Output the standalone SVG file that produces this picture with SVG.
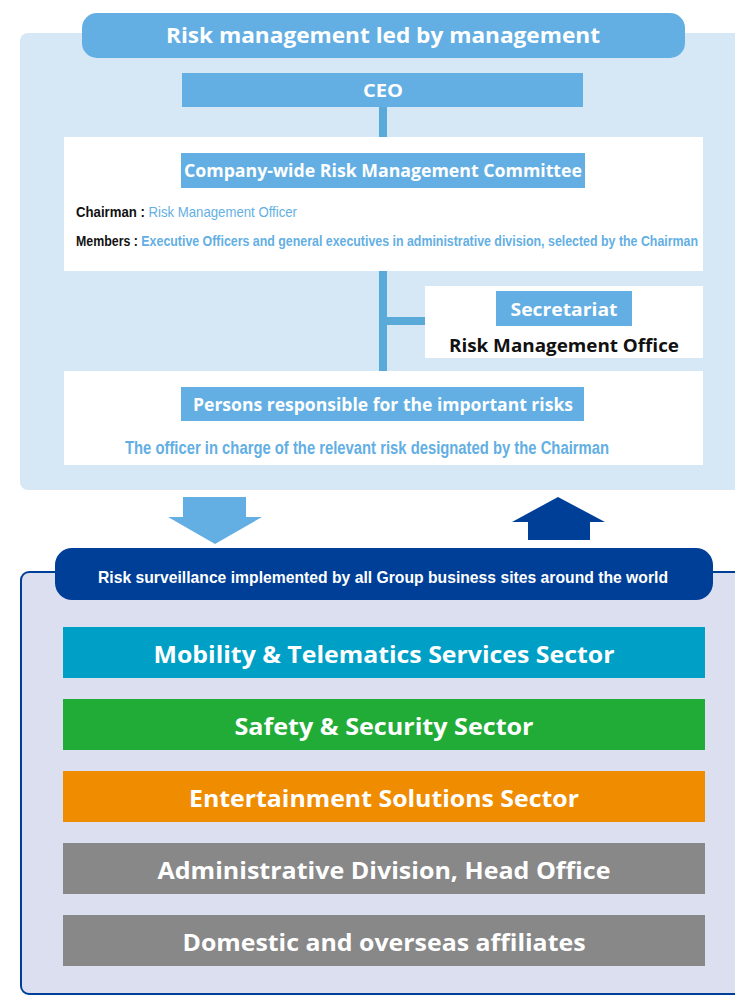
<svg xmlns="http://www.w3.org/2000/svg" width="735" height="996" viewBox="0 0 735 996">
<style>
.t{font-family:"Open Sans","Liberation Sans",sans-serif;font-weight:bold;fill:#fff;text-anchor:middle}
.n{font-family:"Liberation Sans Narrow","Liberation Sans",sans-serif;font-weight:bold;text-anchor:start}
.hb{fill:#63afe3}
.wb{fill:#fff}
.blue{fill:#63afe3}
.blk{fill:#111}
</style>
<rect x="0" y="0" width="735" height="996" fill="#fff"/>
<g id="top-panel">
<rect x="20" y="33" width="740" height="457" rx="8" fill="#d6e8f6"/>
</g>
<g id="title">
<rect x="82" y="13" width="603" height="45" rx="15" class="hb"/>
<text x="383" y="43" class="t" font-size="21" textLength="434" lengthAdjust="spacingAndGlyphs">Risk management led by management</text>
</g>
<g id="connectors">
<rect x="379" y="107" width="8" height="30" fill="#5aaad9"/>
<rect x="379" y="271" width="8" height="100" fill="#5aaad9"/>
<rect x="383" y="317" width="42" height="8" fill="#5aaad9"/>
<polygon points="183,497 246,497 246,517 262,517 215,544 168,517 183,517" fill="#63afe3"/>
<polygon points="558,497 605,522 590,522 590,540 528,540 528,522 512,522" fill="#003f98"/>
</g>
<g id="ceo">
<rect x="182" y="73" width="401" height="34" class="hb"/>
<text x="383" y="97" class="t" font-size="18" textLength="40" lengthAdjust="spacingAndGlyphs">CEO</text>
</g>
<g id="committee">
<rect x="64" y="137" width="639" height="134" class="wb"/>
<rect x="181" y="153" width="404" height="35" class="hb"/>
<text x="383" y="177" class="t" font-size="17" textLength="398" lengthAdjust="spacingAndGlyphs">Company-wide Risk Management Committee</text>
<text x="76" y="217" class="n" font-size="15" textLength="221" lengthAdjust="spacingAndGlyphs"><tspan class="blk">Chairman : </tspan><tspan class="blue" font-weight="normal">Risk Management Officer</tspan></text>
<text x="76" y="246" class="n" font-size="15" textLength="622" lengthAdjust="spacingAndGlyphs"><tspan class="blk">Members : </tspan><tspan class="blue">Executive Officers and general executives in administrative division, selected by the Chairman</tspan></text>
</g>
<g id="secretariat">
<rect x="425" y="286" width="278" height="72" class="wb"/>
<rect x="496" y="291" width="136" height="35" class="hb"/>
<text x="564" y="316" class="t" font-size="18" textLength="107" lengthAdjust="spacingAndGlyphs">Secretariat</text>
<text x="564" y="352" class="t" font-size="18" style="fill:#111" textLength="230" lengthAdjust="spacingAndGlyphs">Risk Management Office</text>
</g>
<g id="persons">
<rect x="64" y="371" width="639" height="94" class="wb"/>
<rect x="181" y="387" width="403" height="34" class="hb"/>
<text x="383" y="411" class="t" font-size="17" textLength="380" lengthAdjust="spacingAndGlyphs">Persons responsible for the important risks</text>
<text x="125" y="454" class="n blue" font-size="18" textLength="484" lengthAdjust="spacingAndGlyphs">The officer in charge of the relevant risk designated by the Chairman</text>
</g>
<g id="bottom-panel">
<rect x="21" y="572" width="740" height="422" rx="8" fill="#dcdff0" stroke="#003f98" stroke-width="2"/>
</g>
<g id="surveillance">
<rect x="55" y="548" width="658" height="52" rx="17" fill="#003f98"/>
<text x="98" y="583" class="n" font-size="17" style="fill:#fff" textLength="570" lengthAdjust="spacingAndGlyphs">Risk surveillance implemented by all Group business sites around the world</text>
</g>
<g id="mobility">
<rect x="63" y="627" width="642" height="51" fill="#00a0c6"/>
<text x="384" y="663" class="t" font-size="24" textLength="461" lengthAdjust="spacingAndGlyphs">Mobility &amp; Telematics Services Sector</text>
</g>
<g id="safety">
<rect x="63" y="699" width="642" height="51" fill="#21ac38"/>
<text x="384" y="735" class="t" font-size="24" textLength="299" lengthAdjust="spacingAndGlyphs">Safety &amp; Security Sector</text>
</g>
<g id="entertainment">
<rect x="63" y="771" width="642" height="51" fill="#f08c00"/>
<text x="384" y="807" class="t" font-size="24" textLength="390" lengthAdjust="spacingAndGlyphs">Entertainment Solutions Sector</text>
</g>
<g id="administrative">
<rect x="63" y="843" width="642" height="51" fill="#888888"/>
<text x="384" y="879" class="t" font-size="24" textLength="453" lengthAdjust="spacingAndGlyphs">Administrative Division, Head Office</text>
</g>
<g id="affiliates">
<rect x="63" y="915" width="642" height="51" fill="#888888"/>
<text x="384" y="951" class="t" font-size="24" textLength="403" lengthAdjust="spacingAndGlyphs">Domestic and overseas affiliates</text>
</g>
</svg>
